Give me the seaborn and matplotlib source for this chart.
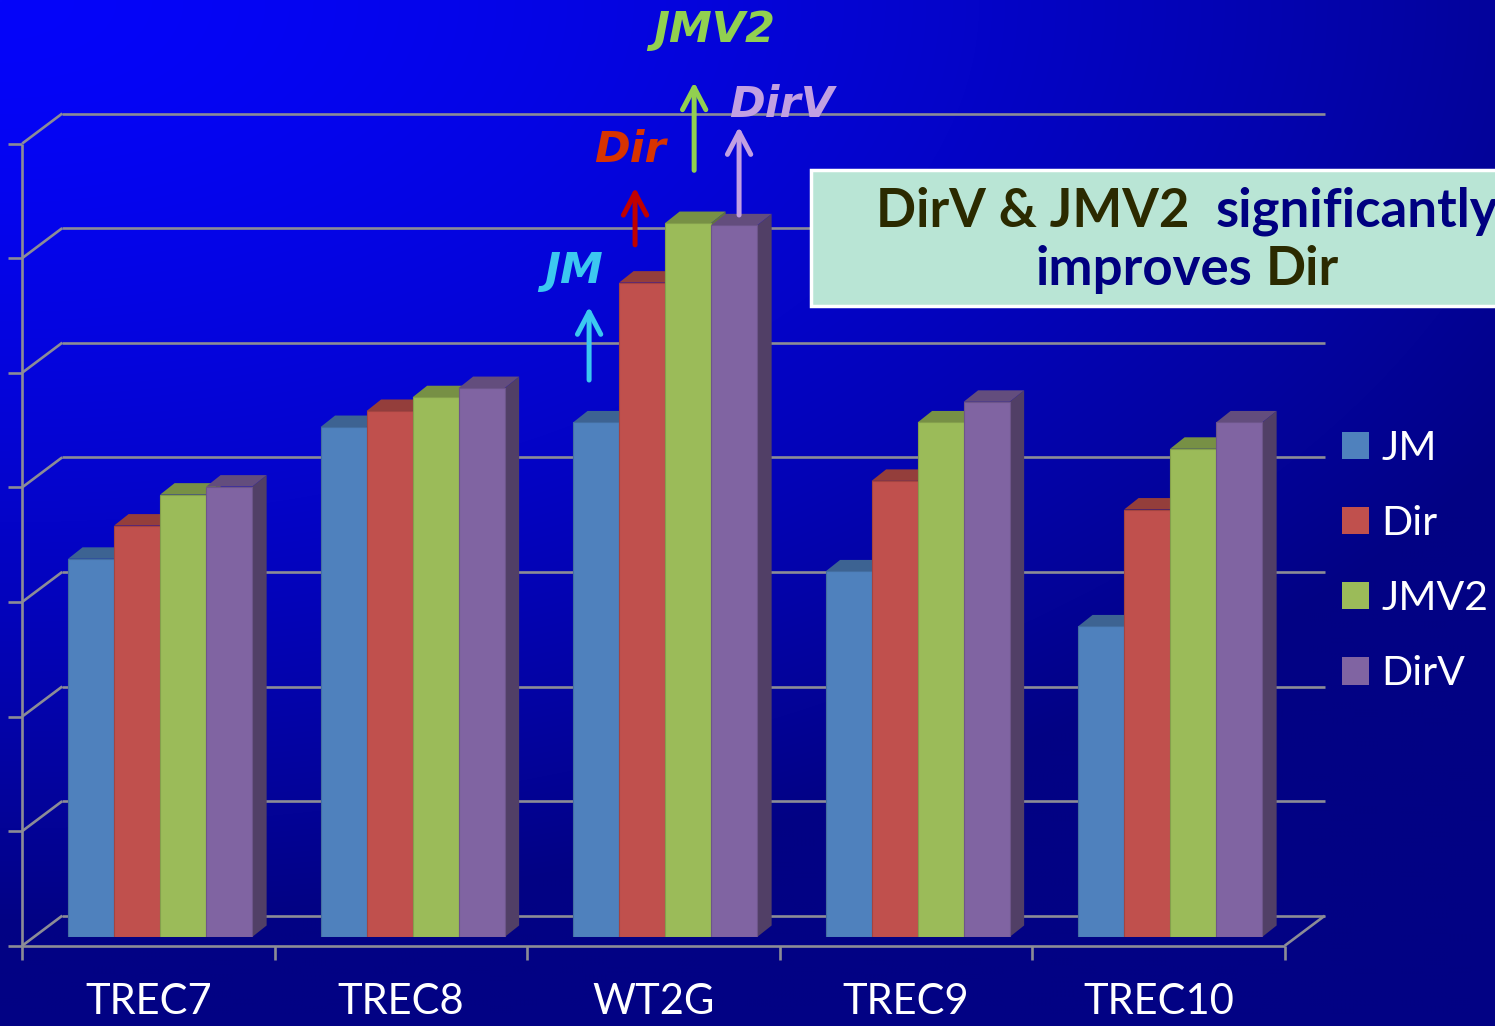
import numpy as np
import pandas as pd
import matplotlib
matplotlib.use("Agg")
import matplotlib.pyplot as plt
import seaborn as sns
from matplotlib.patches import Polygon, Rectangle, Patch

# values (grid units, no y scale shown)
collections = ["TREC7", "TREC8", "WT2G", "TREC9", "TREC10"]
methods = ["JM", "Dir", "JMV2", "DirV"]
jm = [3.30, 4.45, 4.49, 3.19, 2.71]
dirich = [3.59, 4.59, 5.71, 3.98, 3.73]
jmv2 = [3.86, 4.71, 6.23, 4.49, 4.26]
dirv = [3.93, 4.79, 6.21, 4.67, 4.49]

bar_colors = ["#4f81bd", "#c0504d", "#9bbb59", "#8064a2"]
note_colors = ["#3cc8f0", "#d83300", "#92d050", "#c2a0e2"]
arrow_colors = ["#3cc8f0", "#c00000", "#92d050", "#c2a0e2"]

df = pd.DataFrame({
    "collection": collections * 4,
    "method": sum([[m] * 5 for m in methods], []),
    "score": jm + dirich + jmv2 + dirv,
})

W, H = 1495, 1026
fig = plt.figure(figsize=(W / 100, H / 100), dpi=100)
sns.set_style("white")
plt.rcParams["font.family"] = ["Lato", "DejaVu Sans"]

# background gradient
bg = fig.add_axes([0, 0, 1, 1], zorder=-10)
yy, xx = np.mgrid[0:H:4, 0:W:4]
d = np.sqrt((xx / 1500.0) ** 2 + (yy / 800.0) ** 2)
b = np.clip(250 - 95 * d ** 1.5, 132, 255) / 255.0
bg.imshow(np.dstack([b * 0.02, b * 0.02, b]), aspect="auto", interpolation="bilinear")
bg.axis("off")

# main axes (the plane of the bar fronts)
left_px, right_px, base_px, top_px = 33.85, 1296.35, 937.0, 20.2
ax = fig.add_axes([left_px / W, 1 - base_px / H, (right_px - left_px) / W, (base_px - top_px) / H])
ax.set_facecolor("none")

sns.barplot(data=df, x="collection", y="score", hue="method", palette=bar_colors,
            width=0.729, gap=0, saturation=1, linewidth=0, legend=False, ax=ax)
ax.set_xlim(-0.5, 4.5)
ax.set_ylim(0, 8)

sx = (right_px - left_px) / 5.0
sy = (base_px - top_px) / 8.0
fx, fy = -11.6 / sx, -8.7 / sy     # front plane
bx, by = 28.4 / sx, 21.3 / sy      # back wall
ddx, ddy = 14.5 / sx, 11.5 / sy    # bar depth

# grid / walls
gkw = dict(color="#8c8c96", lw=1.9, clip_on=False, zorder=1, solid_capstyle="butt")
for v in range(8):
    ax.plot([-0.5 + bx, 4.5 + bx], [v + by, v + by], **gkw)
    ax.plot([-0.5 + fx, -0.5 + bx], [v + fy, v + by], **gkw)
    ax.plot([-0.5 + fx - 14 / sx, -0.5 + fx], [v + fy, v + fy], **gkw)
ax.plot([-0.5 + fx, -0.5 + fx], [fy, 7 + fy], **gkw)
ax.plot([-0.5 + fx, 4.5 + fx], [fy, fy], **gkw)
ax.plot([4.5 + fx, 4.5 + bx], [fy, by], **gkw)
for k in range(6):
    ax.plot([k - 0.5 + fx, k - 0.5 + fx], [fy, fy - 14 / sy], **gkw)

# 3d faces for each bar, drawn left to right
bars = sorted(ax.patches, key=lambda p: p.get_x())
for i, p in enumerate(bars):
    x0, x1, h = p.get_x(), p.get_x() + p.get_width(), p.get_height()
    c = np.array(p.get_facecolor()[:3])
    z = 3 + i * 0.01
    side = Polygon([(x1, 0), (x1 + ddx, ddy), (x1 + ddx, h + ddy), (x1, h)],
                   facecolor=c * 0.63, edgecolor="none", zorder=z, clip_on=False)
    top = Polygon([(x0, h), (x1, h), (x1 + ddx, h + ddy), (x0 + ddx, h + ddy)],
                  facecolor=c * 0.77, edgecolor="none", zorder=z + 0.002, clip_on=False)
    ax.add_patch(side)
    ax.add_patch(top)
    p.set_zorder(z + 0.004)
    p.set_edgecolor(c * 0.85)
    p.set_linewidth(0.8)

for s in ax.spines.values():
    s.set_visible(False)
ax.set_yticks([])
ax.set_xticks([i + fx for i in range(5)], collections)
ax.tick_params(axis="x", length=0, pad=33, labelsize=30, labelcolor="white")
ax.set_xlabel("")
ax.set_ylabel("")

# arrows and labels over WT2G
arrow_x = [1.699, 1.881, 2.115, 2.293]
arrow_y0 = [4.86, 6.04, 6.69, 6.30]
arrow_y1 = [5.50, 6.54, 7.46, 7.07]
label_x = [1.637, 1.861, 2.194, 2.46]
label_y = [5.71, 6.76, 7.81, 7.155]
for i, m in enumerate(methods):
    ax.annotate("", xy=(arrow_x[i], arrow_y1[i]), xytext=(arrow_x[i], arrow_y0[i]),
                arrowprops=dict(arrowstyle="->,head_length=0.8,head_width=0.42",
                                color=arrow_colors[i], lw=3.6, mutation_scale=20,
                                shrinkA=0, shrinkB=0, capstyle="round"),
                annotation_clip=False, zorder=6)
    ax.text(label_x[i], label_y[i], m, color=note_colors[i], fontsize=31,
            fontweight="bold", fontstyle="italic", family=["DejaVu Sans"],
            ha="center", va="baseline", zorder=6, clip_on=False)

# callout box
fig.patches.append(Rectangle((811 / W, 1 - 306 / H), 720 / W, 136 / H, transform=fig.transFigure,
                             facecolor="#b9e5d5", edgecolor="white", lw=2.5, zorder=5))
renderer = fig.canvas.get_renderer()
olive, navy = "#2b2a00", "#000080"
tkw = dict(fontsize=38, fontweight="bold", va="baseline", zorder=6)


def two_color(a, ca, bpart, cb, cx, base):
    probe = fig.text(0, 0, a + bpart, **tkw)
    wf = probe.get_window_extent(renderer).width
    probe.remove()
    x0 = cx - wf / 2
    fig.text(x0 / W, 1 - base / H, a, color=ca, ha="left", **tkw)
    fig.text((x0 + wf) / W, 1 - base / H, bpart.strip(), color=cb, ha="right", **tkw)


two_color("DirV & JMV2", olive, "  significantly", navy, 1187, 227)
two_color("improves", navy, " Dir", olive, 1187, 285)

# legend
handles = [Patch(facecolor=c, edgecolor="none") for c in bar_colors]
fig.legend(handles, methods, loc="upper left", bbox_to_anchor=(1342 / W, 1 - 430 / H),
           frameon=False, fontsize=29.5, handlelength=0.65, handleheight=0.65,
           handletextpad=0.32, labelspacing=0.93, labelcolor="white",
           borderaxespad=0, borderpad=0)

fig.savefig("out.png", dpi=100)
